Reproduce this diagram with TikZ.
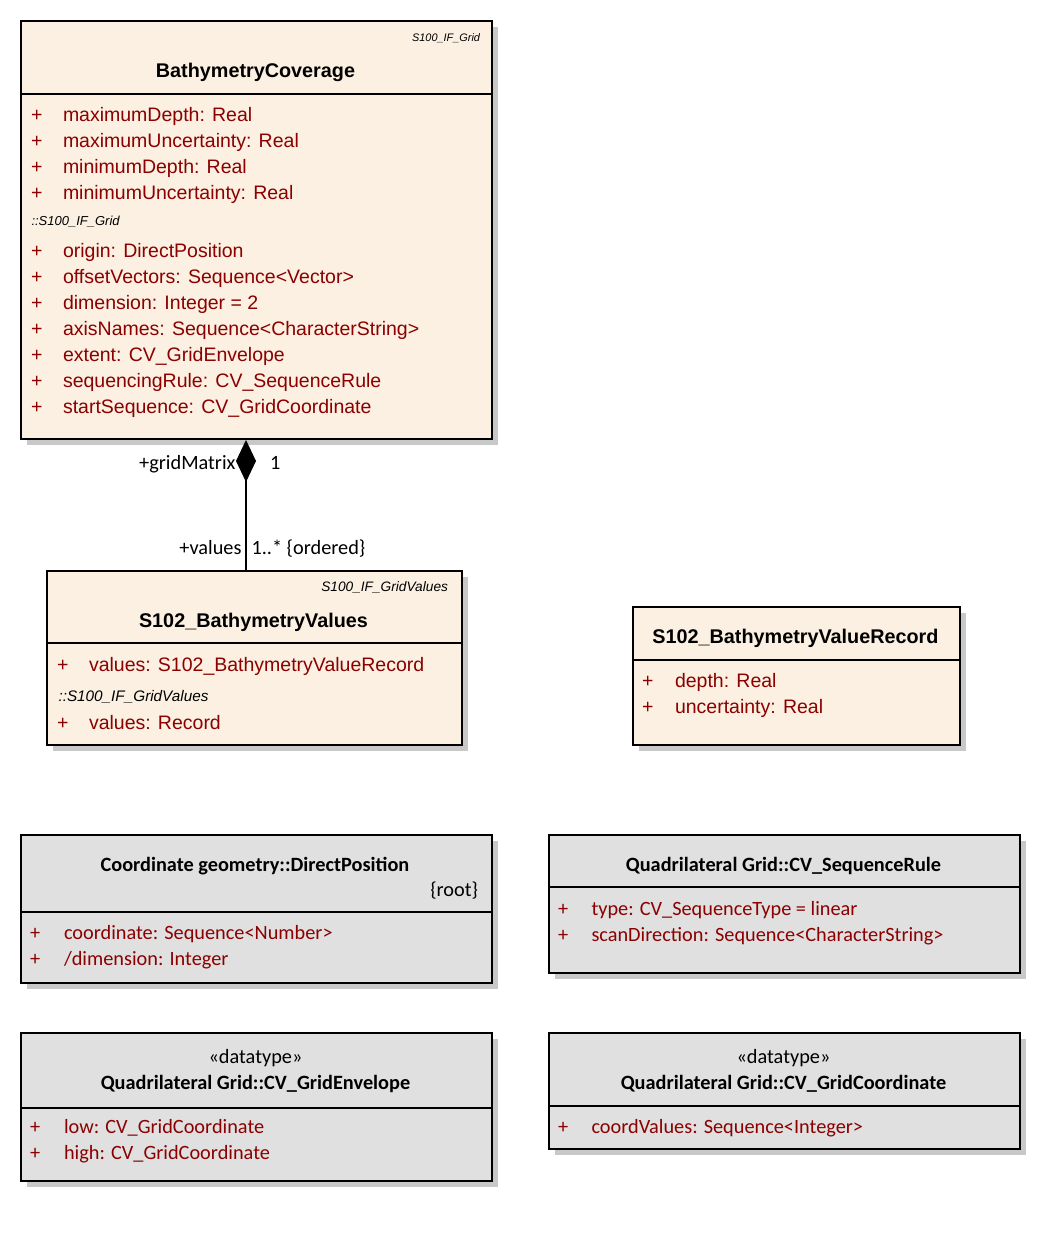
\documentclass[tikz,border=0pt]{standalone}
\usepackage{fontspec}
\setmainfont{Liberation Sans}
\newfontfamily\calibri{Carlito}
\usetikzlibrary{shadows,arrows.meta}
\definecolor{classcream}{HTML}{FBF0E1}
\definecolor{classgrey}{HTML}{E0E0E0}
\definecolor{attrred}{HTML}{8B0000}
\definecolor{shadowgrey}{HTML}{C8C8C8}

\begin{document}
\begin{tikzpicture}[x=1pt,y=-1pt,
  box/.style={draw=black, line width=2pt, anchor=north west, inner sep=0pt,
    drop shadow={shadow xshift=6pt, shadow yshift=-6pt, fill=shadowgrey, opacity=1}},
  creambox/.style={box, fill=classcream},
  greybox/.style={box, fill=classgrey},
  divider/.style={draw=black, line width=2pt},
  txt/.style={inner sep=0pt, outer sep=0pt, anchor=base west},
  atitle/.style={txt, anchor=base, font=\fontsize{19.8}{22}\bfseries\selectfont},
  aattr/.style={txt, text=attrred, font=\fontsize{19.5}{22}\selectfont},
  anote/.style={txt, font=\fontsize{#1}{13}\itshape\selectfont},
  anote/.default=11,
  ctitle/.style={txt, anchor=base, font=\calibri\fontsize{20.3}{24}\bfseries\selectfont},
  cplain/.style={txt, font=\calibri\fontsize{20.3}{24}\selectfont},
  cattr/.style={cplain, text=attrred},
  role/.style={cplain},
  assoc/.style={draw=black, line width=2pt}
]
\useasboundingbox (0,0) rectangle (1040,1240);

% ---------- BathymetryCoverage ----------
\node[creambox, minimum width=471pt, minimum height=418pt] (cov) at (20,20) {};
\draw[divider] (20,94) -- (491,94);
\node[anote=10.9, anchor=base east] (covst) at (480,41) {S100\_IF\_Grid};
\node[atitle] (covt) at (255.5,77.5) {BathymetryCoverage};
\foreach \y/\n/\t in {121/a1/{maximumDepth: Real},
                       147/a2/{maximumUncertainty: Real},
                       173/a3/{minimumDepth: Real},
                       199/a4/{minimumUncertainty: Real},
                       257/a5/{origin: DirectPosition},
                       283/a6/{offsetVectors: Sequence<Vector>},
                       309/a7/{dimension: Integer = 2},
                       335/a8/{axisNames: Sequence<CharacterString>},
                       361/a9/{extent: CV\_GridEnvelope},
                       387/a10/{sequencingRule: CV\_SequenceRule},
                       413/a11/{startSequence: CV\_GridCoordinate}} {
  \node[aattr] (cov-p\n) at (31,\y) {+};
  \node[aattr] (cov-\n) at (63,\y) {\t};
}
\node[anote=13] (covinh) at (31.5,225.5) {::S100\_IF\_Grid};

% ---------- S102_BathymetryValues ----------
\node[creambox, minimum width=415pt, minimum height=174pt] (vals) at (46,570) {};
\draw[divider] (46,643) -- (461,643);
\node[anote=13.7, anchor=base east] (valsst) at (448,591.5) {S100\_IF\_GridValues};
\node[atitle] (valst) at (253.5,627) {S102\_BathymetryValues};
\node[aattr] (vals-p1) at (57,671) {+};
\node[aattr] (vals-a1) at (89,671) {values: S102\_BathymetryValueRecord};
\node[anote=15.3] (valsinh) at (58.5,701.5) {::S100\_IF\_GridValues};
\node[aattr] (vals-p2) at (57,729) {+};
\node[aattr] (vals-a2) at (89,729) {values: Record};

% ---------- S102_BathymetryValueRecord ----------
\node[creambox, minimum width=327pt, minimum height=138pt] (rec) at (632,606) {};
\draw[divider] (632,660) -- (959,660);
\node[atitle] (rect) at (795.5,643) {S102\_BathymetryValueRecord};
\node[aattr] (rec-p1) at (642,687) {+};
\node[aattr] (rec-a1) at (675,687) {depth: Real};
\node[aattr] (rec-p2) at (642,713) {+};
\node[aattr] (rec-a2) at (675,713) {uncertainty: Real};

% ---------- composition gridMatrix / values ----------
\coordinate (joint) at (246,0);
\draw[assoc, -{Diamond[length=42pt, width=20pt, fill=black]}]
  (vals.north -| joint) -- (cov.south -| joint);
\node[role, anchor=base east] (r1) at (235.5,469.5) {+gridMatrix};
\node[role] (m1) at (270,469.5) {1};
\node[role, anchor=base east] (r2) at (241.5,554) {+values};
\node[role] (m2) at (251.5,554) {1..* \{ordered\}};

% ---------- Coordinate geometry::DirectPosition ----------
\node[greybox, minimum width=471pt, minimum height=148pt] (dp) at (20,834) {};
\draw[divider] (20,912) -- (491,912);
\node[ctitle] (dpt) at (255,871) {Coordinate geometry::DirectPosition};
\node[cplain, anchor=base east] (dproot) at (478,896) {\{root\}};
\node[cattr] (dp-p1) at (30,939) {+};
\node[cattr] (dp-a1) at (64,939) {coordinate: Sequence<Number>};
\node[cattr] (dp-p2) at (30,965) {+};
\node[cattr] (dp-a2) at (64,965) {/dimension: Integer};

% ---------- Quadrilateral Grid::CV_SequenceRule ----------
\node[greybox, minimum width=471pt, minimum height=138pt] (sr) at (548,834) {};
\draw[divider] (548,887) -- (1019,887);
\node[ctitle] (srt) at (783.5,871) {Quadrilateral Grid::CV\_SequenceRule};
\node[cattr] (sr-p1) at (558,915) {+};
\node[cattr] (sr-a1) at (591.5,915) {type: CV\_SequenceType = linear};
\node[cattr] (sr-p2) at (558,941) {+};
\node[cattr] (sr-a2) at (591.5,941) {scanDirection: Sequence<CharacterString>};

% ---------- Quadrilateral Grid::CV_GridEnvelope ----------
\node[greybox, minimum width=471pt, minimum height=148pt] (ge) at (20,1032) {};
\draw[divider] (20,1108) -- (491,1108);
\node[cplain, anchor=base] (gest) at (255.5,1063) {«datatype»};
\node[ctitle] (get) at (255.5,1089) {Quadrilateral Grid::CV\_GridEnvelope};
\node[cattr] (ge-p1) at (30,1133) {+};
\node[cattr] (ge-a1) at (64,1133) {low: CV\_GridCoordinate};
\node[cattr] (ge-p2) at (30,1159) {+};
\node[cattr] (ge-a2) at (64,1159) {high: CV\_GridCoordinate};

% ---------- Quadrilateral Grid::CV_GridCoordinate ----------
\node[greybox, minimum width=471pt, minimum height=116pt] (gc) at (548,1032) {};
\draw[divider] (548,1106) -- (1019,1106);
\node[cplain, anchor=base] (gcst) at (783.5,1063) {«datatype»};
\node[ctitle] (gct) at (783.5,1089) {Quadrilateral Grid::CV\_GridCoordinate};
\node[cattr] (gc-p1) at (558,1133) {+};
\node[cattr] (gc-a1) at (591.5,1133) {coordValues: Sequence<Integer>};
\end{tikzpicture}
\end{document}
